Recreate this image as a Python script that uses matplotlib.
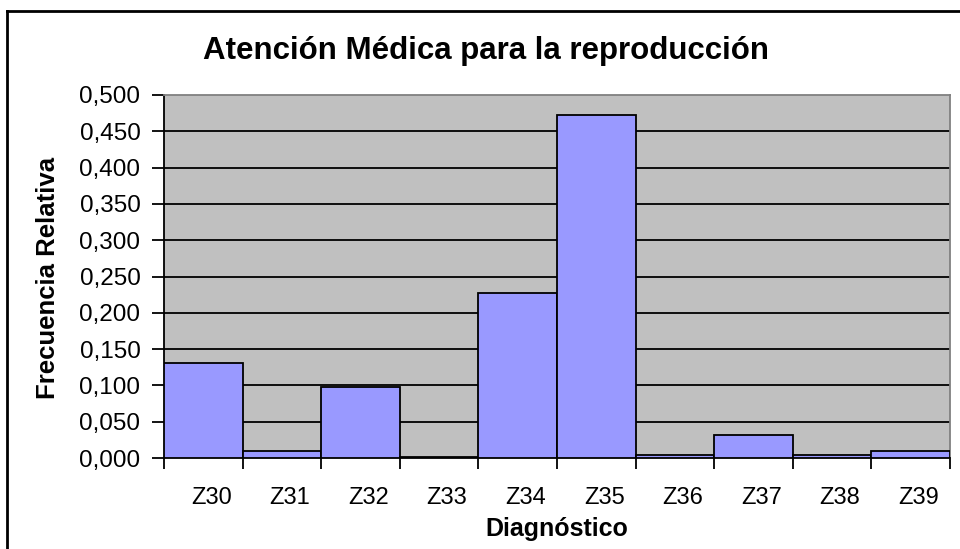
import matplotlib
matplotlib.use("Agg")
import matplotlib.pyplot as plt
from matplotlib.lines import Line2D
from matplotlib.transforms import ScaledTranslation

categories = ["Z30", "Z31", "Z32", "Z33", "Z34", "Z35", "Z36", "Z37", "Z38", "Z39"]
values = [0.131, 0.010, 0.098, 0.002, 0.227, 0.472, 0.004, 0.032, 0.004, 0.010]
yticks = [0.0, 0.05, 0.10, 0.15, 0.20, 0.25, 0.30, 0.35, 0.40, 0.45, 0.50]

plt.rcParams['font.family'] = ['Liberation Sans', 'DejaVu Sans']

W, H = 960, 549
fig = plt.figure(figsize=(W/100, H/100), dpi=100)
left, right, top, bottom = 164, 950, 95, 458
ax = fig.add_axes([left/W, 1-bottom/H, (right-left)/W, (bottom-top)/H])
ax.set_facecolor('#C0C0C0')

x = list(range(len(categories)))
ax.bar(x, values, width=1.0, align='edge', color='#9999FF', edgecolor='black', linewidth=1.3, zorder=3)
ax.set_xlim(0, len(categories))
ax.set_ylim(0, 0.5)
ax.set_yticks(yticks)
ax.set_yticklabels([f"{v:.3f}".replace('.', ',') for v in yticks], fontsize=17.5)
for v in yticks[1:-1]:
    ax.axhline(v, color='black', linewidth=1.3, zorder=2)

ax.set_xticks(range(len(categories)+1))
ax.set_xticklabels([])
ax.set_xticks([i+0.5 for i in x], minor=True)
ax.set_xticklabels(categories, minor=True, fontsize=17)
ax.tick_params(axis='x', which='minor', length=0, pad=21)
ax.tick_params(axis='x', which='major', length=8, width=1.3, direction='out')
ax.tick_params(axis='y', length=9, width=1.3, direction='out', pad=8)
shift = ScaledTranslation(8/100, 0, fig.dpi_scale_trans)
for lab in ax.get_xticklabels(minor=True):
    lab.set_transform(lab.get_transform() + shift)

for s in ['top', 'right']:
    ax.spines[s].set_color('#808080')
    ax.spines[s].set_linewidth(1.3)
for s in ['left', 'bottom']:
    ax.spines[s].set_color('black')
    ax.spines[s].set_linewidth(1.3)

ax.set_xlabel("Diagnóstico", fontsize=18, fontweight='bold', va='center')
ax.xaxis.set_label_coords(0.5, -(529-bottom)/(bottom-top))
ax.set_ylabel("Frecuencia Relativa", fontsize=18.5, fontweight='bold', va='center')
ax.yaxis.set_label_coords(-(left-48)/(right-left), (bottom-278)/(bottom-top))
fig.text(486/W, 1-51/H, "Atención Médica para la reproducción", fontsize=22.5, fontweight='bold',
         ha='center', va='center')

# outer chart border
bx, by = 7, 11
fig.add_artist(Line2D([bx/W, bx/W], [0, 1-by/H], color='black', linewidth=2, transform=fig.transFigure))
fig.add_artist(Line2D([bx/W, 1], [1-by/H, 1-by/H], color='black', linewidth=2, transform=fig.transFigure))

fig.savefig("out.png", dpi=100)
